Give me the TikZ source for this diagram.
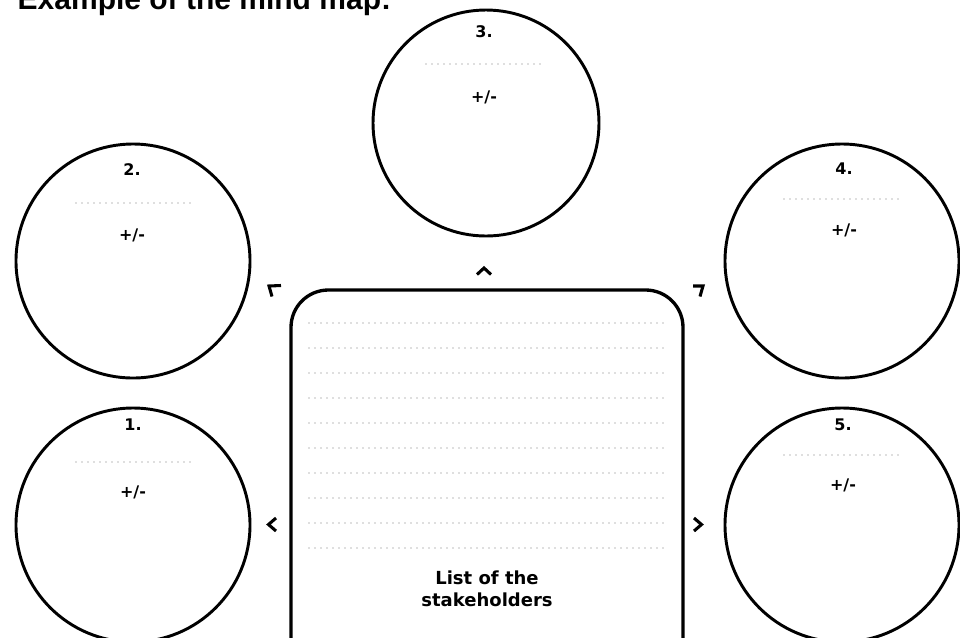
\documentclass[tikz,border=0pt]{standalone}
\usepackage{fontspec}
\setmainfont{DejaVu Sans}
\newfontfamily\titlefont{Liberation Sans}
\usetikzlibrary{positioning}

\tikzset{
  bubble/.style={draw, circle, line width=2.2pt, inner sep=0pt},
  listbox/.style={draw, rectangle, rounded corners=28pt, line width=2.5pt, inner sep=0pt},
  numtext/.style={font=\fontsize{12}{14}\selectfont\bfseries},
  fillline/.style={black!55, line width=0.9pt, line cap=round, dash pattern=on 0pt off 4.5pt},
  chev/.style={line width=2.3pt}
}

\begin{document}
\begin{tikzpicture}[x=0.75pt,y=-0.75pt]
    \useasboundingbox (0,0) rectangle (960,637);
    \clip (0,0) rectangle (960,637);

    \node[anchor=base west, font=\titlefont\bfseries\fontsize{22.5}{26}\selectfont] (title) at (13,9) {Example of the mind map:};

    % the five circles
    \node[bubble, minimum size=175.5pt] (c1) at (133,525) {};
    \node[bubble, minimum size=175.5pt] (c2) at (133,261) {};
    \node[bubble, minimum size=169.5pt] (c3) at (486,123) {};
    \node[bubble, minimum size=175.5pt] (c4) at (842,261) {};
    \node[bubble, minimum size=175.5pt] (c5) at (842,525) {};

    \node[numtext] (n1) at (133,425) {1.};
    \draw[fillline] (76,462) -- (192,462);
    \node[numtext] (p1) at (133,492) {+/-};

    \node[numtext] (n2) at (132,170) {2.};
    \draw[fillline] (76,203) -- (192,203);
    \node[numtext] (p2) at (132,235) {+/-};

    \node[numtext] (n3) at (484,32) {3.};
    \draw[fillline] (426,64) -- (542,64);
    \node[numtext] (p3) at (484,97) {+/-};

    \node[numtext] (n4) at (844,169) {4.};
    \draw[fillline] (784,199) -- (900,199);
    \node[numtext] (p4) at (844,230) {+/-};

    \node[numtext] (n5) at (843,425) {5.};
    \draw[fillline] (784,455) -- (900,455);
    \node[numtext] (p5) at (843,485) {+/-};

    % list of the stakeholders
    \node[listbox, minimum width=294pt, minimum height=307.5pt] (list) at (487,495) {};
    \foreach \y in {323,348,...,548}
        \draw[fillline] (309,\y) -- (667,\y);
    \node[align=center, font=\fontsize{13.5}{16.3}\selectfont\bfseries] (listlabel) at (487,589) {List of the\\stakeholders};

    % small arrow heads round the box
    \draw[chev] (276,518) -- (268.5,524.5) -- (276,531);
    \draw[chev] (694,518) -- (701.5,524.5) -- (694,531);
    \draw[chev] (477,274.5) -- (484,268) -- (491,274.5);
    \draw[chev] (281,285.5) -- (269,286) -- (272,296.5);
    \draw[chev] (693,286) -- (703,286) -- (700,296.5);
\end{tikzpicture}
\end{document}
